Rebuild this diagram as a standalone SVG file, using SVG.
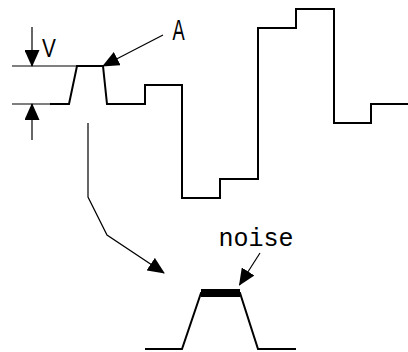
<svg xmlns="http://www.w3.org/2000/svg" width="408" height="352" viewBox="0 0 408 352">
<style>
.thin{fill:none;stroke:#000;stroke-width:1.2}
.wave{fill:none;stroke:#000;stroke-width:2;stroke-linejoin:miter}
.lbl{font-family:"Liberation Sans",Arial,sans-serif;fill:#000}
.mono{font-family:"Liberation Mono",monospace;fill:#000}
</style>
<defs>
<marker id="ah" markerUnits="userSpaceOnUse" markerWidth="17" markerHeight="15" viewBox="0 0 17 15" refX="16" refY="7.5" orient="auto">
<path d="M0,0 L17,7.5 L0,15 z" fill="#000"/>
</marker>
</defs>
<rect width="408" height="352" fill="#fff"/>
<g id="signal">
<line class="thin" x1="12" y1="66" x2="78" y2="66"/>
<line class="thin" x1="12" y1="104" x2="51" y2="104"/>
<polyline class="wave" points="50,104 69,104 77,66 103,66 107,104 145,104 145,85 182,85 182,198 220,198 220,179 258,179 258,28 296,28 296,9 334,9 334,123 371,123 371,104 408,104"/>
</g>
<g id="zoomed">
<polyline class="wave" points="145,349 182,349 201,293 240,293 258,349 296,349"/>
<rect x="201" y="289" width="39" height="8" fill="#000"/>
</g>
<g id="labels">
<text class="lbl" transform="translate(49,56.7) scale(0.8,1)" font-size="26" text-anchor="middle">V</text>
<text class="lbl" transform="translate(178.5,40) scale(0.63,1)" font-size="29" text-anchor="middle">A</text>
<text class="mono" x="256" y="246" font-size="25" text-anchor="middle">noise</text>
</g>
<g id="connectors">
<line class="thin" x1="32" y1="27" x2="32" y2="66" marker-end="url(#ah)"/>
<line class="thin" x1="32" y1="140" x2="32" y2="104" marker-end="url(#ah)"/>
<line class="thin" x1="163" y1="35" x2="103" y2="66" stroke-width="2" marker-end="url(#ah)"/>
<polyline class="thin" points="88,123 88,197 107,235 164,273" marker-end="url(#ah)"/>
<line class="thin" x1="260" y1="253" x2="239.5" y2="285" marker-end="url(#ah)"/>
</g>
</svg>
